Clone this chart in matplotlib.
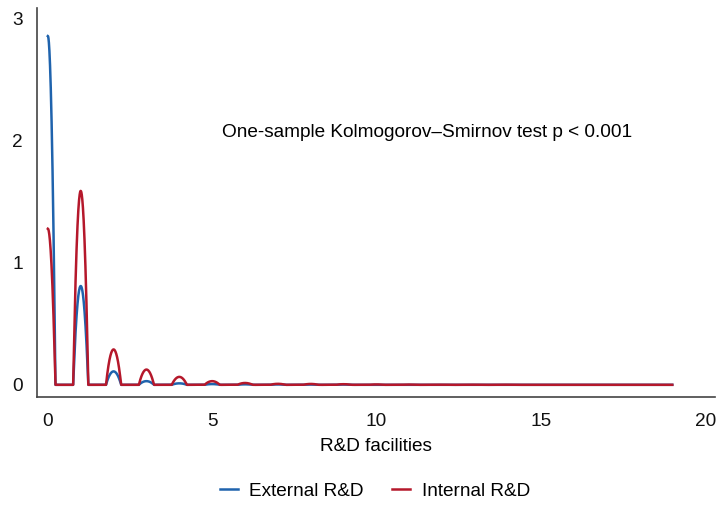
import numpy as np
import matplotlib
matplotlib.use("Agg")
import matplotlib.pyplot as plt

plt.rcParams['font.family'] = ['Liberation Sans', 'DejaVu Sans']

# Peak density at each integer number of R&D facilities
facilities = np.arange(0, 20)
external_peak = [2.86, 0.81, 0.11, 0.03, 0.012, 0.006, 0.004, 0.003, 0.002, 0.002,
                 0.0, 0.0, 0.0, 0.0, 0.0, 0.0, 0.0, 0.0, 0.0, 0.0]
internal_peak = [1.28, 1.59, 0.29, 0.125, 0.065, 0.03, 0.015, 0.008, 0.007, 0.005,
                 0.003, 0.002, 0.001, 0.001, 0.001, 0.0, 0.0, 0.0, 0.0, 0.0]
series_names = ["External R&D", "Internal R&D"]
colors = ["#1f63ad", "#b5182b"]
annotation = "One-sample Kolmogorov\u2013Smirnov test p < 0.001"

bw = 0.23  # Epanechnikov kernel half-width
grid = np.linspace(0, 19, 6000)

def density(peaks):
    y = np.zeros_like(grid)
    for k, h in zip(facilities, peaks):
        u = (grid - k) / bw
        y += h * np.clip(1 - u ** 2, 0, None)
    return y

fig = plt.figure(figsize=(7.19, 5.05), dpi=100)
ax = fig.add_axes([37/719, 1-397/505, (715-37)/719, (397-8)/505])

for name, peaks, c in zip(series_names, [external_peak, internal_peak], colors):
    ax.plot(grid, density(peaks), color=c, lw=1.8, label=name)

ax.set_xlim(-0.33, 20.3)
ax.set_ylim(-0.1, 3.09)
ax.set_xticks([0, 5, 10, 15, 20])
ax.set_yticks([0, 1, 2, 3])
ax.tick_params(length=0, labelsize=13.7, colors="#111111")
ax.tick_params(axis='x', pad=11.5)
ax.tick_params(axis='y', pad=10)
for s in ['top', 'right']:
    ax.spines[s].set_visible(False)
for s in ['left', 'bottom']:
    ax.spines[s].set_color("#444444")
    ax.spines[s].set_linewidth(1.2)
ax.set_xlabel("R&D facilities", fontsize=13.7, labelpad=6)
ax.text(11.55, 2.065, annotation, ha='center', va='center', fontsize=13.7)
fig.legend(loc='center', bbox_to_anchor=(375/719, 1-491/505), ncol=2, frameon=False,
           fontsize=13.7, handlelength=0.95, columnspacing=1.5, handletextpad=0.6)
fig.savefig("out.png", dpi=100)
